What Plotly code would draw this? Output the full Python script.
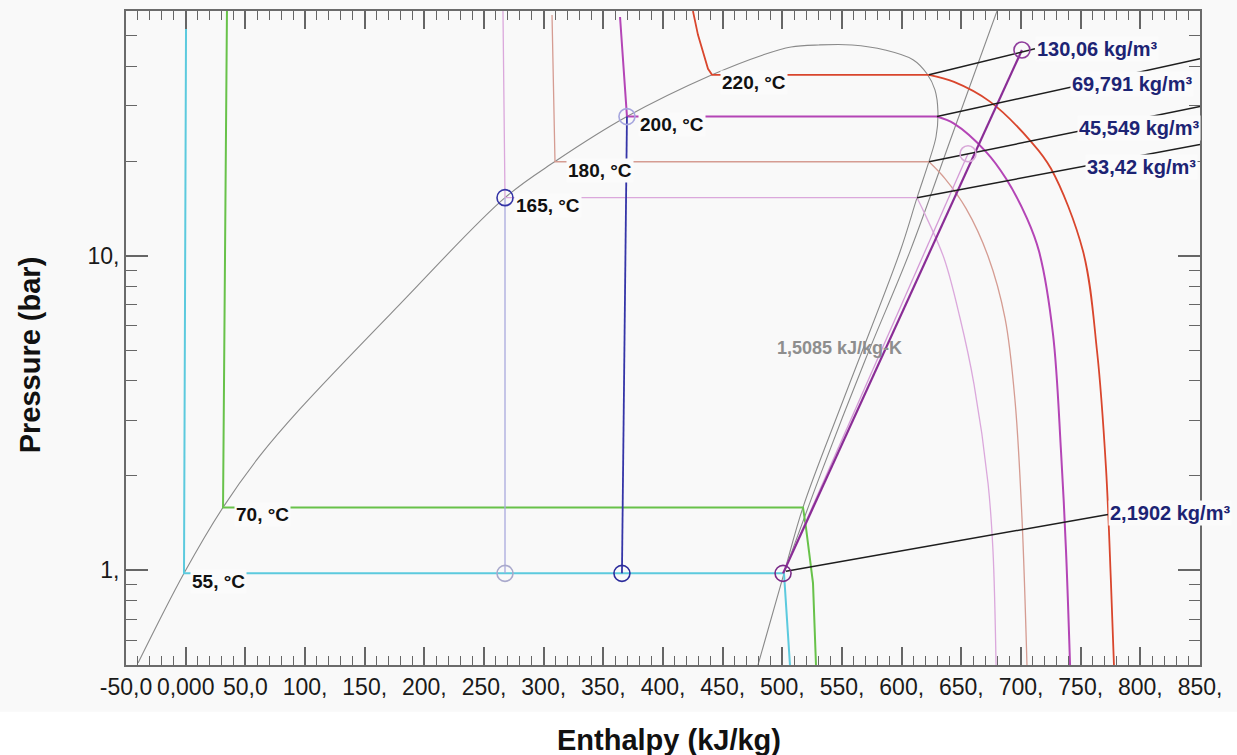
import math
import plotly.graph_objects as go

# ---------------- data (enthalpy kJ/kg, pressure bar) ----------------
# saturation dome: liquid side bottom -> critical region -> vapour side bottom
dome_h = [-39.9, -1.4, 31.3, 62.3, 95.8, 179.6, 267.6, 309.5, 369.8, 441.1, 483.8, 507.3,
          530.7, 558.4, 586.0, 609.5, 621.2, 627.9, 630.4, 628.8, 622.9, 612.9,
          598.6, 551.7, 517.3, 501.4, 479.6]
dome_p = [0.507, 0.978, 1.585, 2.315, 3.26, 7.02, 15.3, 19.93, 27.7, 37.6, 43.5, 46.1,
          46.8, 46.8, 45.1, 42.0, 37.9, 33.7, 28.7, 23.9, 19.95, 15.3,
          10.3, 3.53, 1.585, 0.978, 0.5]

# isotherms: compressed liquid -> two-phase plateau -> superheated vapour
t55_h = [0.3, -1.4, 501.4, 506.4]
t55_p = [52.6, 0.978, 0.978, 0.5]

t70_h = [34.6, 31.3, 517.3, 519.8, 525.7, 528.2]
t70_p = [60.0, 1.585, 1.585, 1.369, 0.910, 0.5]

t165_h = [265.9, 267.6, 612.9, 619.6, 635.5, 648.9, 660.6, 672.4, 676.5, 679.1]
t165_p = [60.0, 15.3, 15.3, 13.54, 9.82, 6.34, 3.91, 1.888, 1.157, 0.5]

t180_h = [307.0, 309.5, 622.9, 636.3, 653.9, 672.4, 686.6, 695.0, 700.8, 705.0]
t180_p = [58.3, 19.9, 19.9, 17.6, 14.15, 9.97, 6.34, 3.46, 1.473, 0.5]

t200_h = [364.0, 369.8, 629.6, 643.9, 670.7, 687.4, 705.0, 715.1, 726.8, 733.5, 737.7, 741.1]
t200_p = [57.4, 27.7, 27.7, 26.3, 21.4, 17.6, 13.15, 10.33, 5.64, 2.40, 1.157, 0.5]

t220_h = [425.1, 429.3, 437.7, 441.1, 622.9, 643.9, 674.0, 708.4, 725.1, 752.0, 763.7,
          771.2, 775.4, 777.9]
t220_p = [60.0, 50.4, 39.3, 37.6, 37.6, 35.7, 30.9, 23.07, 18.94, 10.33, 4.98,
          2.12, 0.910, 0.5]

# isentrope s = 1,5085 kJ/kg-K
isen_h = [501.4, 531.6, 570.1, 607.0, 643.0, 679.9]
isen_p = [0.978, 2.0, 4.73, 10.33, 24.6, 60.0]

# process lines
expand_h = [369.8, 365.6]
expand_p = [27.7, 0.978]
drop165_h = [267.6, 267.6]
drop165_p = [15.3, 0.978]
comp_hi_h = [500.6, 700.8]
comp_hi_p = [0.978, 45.1]
comp_lo_h = [500.6, 655.6]
comp_lo_p = [0.978, 21.1]

# state points
pt_h = [267.6, 267.6, 365.6, 369.8, 500.6, 700.8, 655.6]
pt_p = [15.3, 0.978, 0.978, 27.7, 0.978, 45.1, 21.1]
pt_colors = ["#3434a6", "#a9a9cc", "#2c2c9c", "#a6a6de", "#7a2a88", "#8e3c9c", "#d8a8d8"]

# density leader lines (start h, end h), (start p, end p)
lead_h = [[622.9, 711.7], [629.6, 850.0], [622.9, 850.0], [612.9, 850.0], [503.1, 772.9]]
lead_p = [[37.6, 45.5], [27.7, 42.3], [19.9, 29.8], [15.3, 22.6], [0.993, 1.505]]
dens_text = ["130,06 kg/m³", "69,791 kg/m³", "45,549 kg/m³", "33,42 kg/m³", "2,1902 kg/m³"]
dens_h = [711.7, 741.1, 746.9, 753.6, 772.9]
dens_p = [45.5, 35.2, 25.4, 19.2, 1.517]

# isotherm labels
iso_text = ["55, °C", "70, °C", "165, °C", "180, °C", "200, °C", "220, °C"]
iso_h = [27.9, 64.0, 303.6, 347.2, 407.5, 476.3]
iso_p = [0.923, 1.505, 14.45, 18.67, 26.1, 35.5]

# axis ticks
x_ticks = list(range(-50, 851, 50))
x_ticktext = ["-50,0", "0,000", "50,0"] + [f"{v}," for v in range(100, 851, 50)]
y_ticks = [1, 10]
y_ticktext = ["1,", "10,"]
y_minor = [0.6, 0.7, 0.8, 0.9, 2, 3, 4, 5, 6, 7, 8, 9, 20, 30, 40, 50]

BG = "#fbfbfb"
FONT = "Liberation Sans, Arial, Helvetica, sans-serif"

fig = go.Figure()


def add_line(h, p, color, width, shape="linear"):
    fig.add_trace(go.Scatter(x=h, y=p, mode="lines",
                             line=dict(color=color, width=width, shape=shape),
                             hoverinfo="skip", showlegend=False))


def add_isotherm(h, p, vap_idx, color, width):
    # liquid branch and plateau as straight segments, vapour branch smoothed
    add_line(h[:vap_idx + 1], p[:vap_idx + 1], color, width)
    add_line(h[vap_idx:], p[vap_idx:], color, width, "spline")


add_line(dome_h, dome_p, "#8a8a8a", 1.1, "spline")
add_line(isen_h, isen_p, "#8a8a8a", 1.1, "spline")
add_isotherm(t165_h, t165_p, 2, "#dba8dc", 1.3)
add_isotherm(t180_h, t180_p, 2, "#d59c92", 1.3)
add_isotherm(t200_h, t200_p, 2, "#b445b6", 2.0)
add_isotherm(t220_h, t220_p, 4, "#d9462d", 1.8)
add_line(t55_h, t55_p, "#5ccade", 2.0)
add_line(t70_h, t70_p, "#68c24a", 2.0)
add_line(drop165_h, drop165_p, "#a9a9dd", 1.3)
add_line(expand_h, expand_p, "#3535a8", 1.8)
add_line(comp_lo_h, comp_lo_p, "#d49ad6", 1.3)
add_line(comp_hi_h, comp_hi_p, "#8a2d96", 2.2)
for lh, lp in zip(lead_h, lead_p):
    add_line(lh, lp, "#1e1e1e", 1.5)

fig.add_trace(go.Scatter(x=pt_h, y=pt_p, mode="markers",
                         marker=dict(symbol="circle-open", size=16,
                                     color=pt_colors, line=dict(width=1.6, color=pt_colors)),
                         hoverinfo="skip", showlegend=False))

annotations = []
for t, h, p in zip(iso_text, iso_h, iso_p):
    annotations.append(dict(x=h, y=math.log10(p), xref="x", yref="y", text=f"<b>{t}</b>",
                            showarrow=False, xanchor="center", yanchor="middle",
                            font=dict(family=FONT, size=19, color="#111111"),
                            bgcolor=BG, borderpad=1))
for t, h, p in zip(dens_text, dens_h, dens_p):
    annotations.append(dict(x=h, y=math.log10(p), xref="x", yref="y", text=f"<b>{t}</b>",
                            showarrow=False, xanchor="left", yanchor="middle",
                            font=dict(family=FONT, size=20, color="#1d2474"),
                            bgcolor=BG, borderpad=1))
annotations.append(dict(x=548.3, y=math.log10(5.09), xref="x", yref="y",
                        text="<b>1,5085 kJ/kg-K</b>", showarrow=False,
                        font=dict(family=FONT, size=18, color="#8e8e8e")))
annotations.append(dict(x=0.506, y=-0.114, xref="paper", yref="paper",
                        text="<b>Enthalpy (kJ/kg)</b>", showarrow=False,
                        xanchor="center", yanchor="middle",
                        font=dict(family=FONT, size=29, color="#111111")))
annotations.append(dict(x=-0.0894, y=0.475, xref="paper", yref="paper",
                        text="<b>Pressure (bar)</b>", showarrow=False, textangle=-90,
                        xanchor="center", yanchor="middle",
                        font=dict(family=FONT, size=29, color="#111111")))

fig.update_layout(
    width=1237, height=755, autosize=False,
    margin=dict(l=126, r=37, t=9, b=90),
    plot_bgcolor=BG, paper_bgcolor="#ffffff",
    font=dict(family=FONT),
    annotations=annotations,
    shapes=[dict(type="rect", xref="paper", yref="paper", x0=-0.12, x1=1.04,
                 y0=-0.0716, y1=1.02, fillcolor="#f9f9f9", line=dict(width=0),
                 layer="below")],
)
fig.update_xaxes(range=[-50, 850], tickmode="array", tickvals=x_ticks, ticktext=x_ticktext,
                 ticks="inside", ticklen=18, tickwidth=1.5, tickcolor="#666666",
                 showline=True, linecolor="#6b6b6b", linewidth=2, mirror="ticks",
                 showgrid=False, zeroline=False,
                 tickfont=dict(family=FONT, size=23, color="#1a1a1a"),
                 minor=dict(tickmode="linear", tick0=0, dtick=10, ticks="inside",
                            ticklen=9, tickwidth=1.2, tickcolor="#666666", showgrid=False))
fig.update_yaxes(type="log", range=[math.log10(0.5), math.log10(60)],
                 tickmode="array", tickvals=y_ticks, ticktext=y_ticktext,
                 ticks="inside", ticklen=22, tickwidth=1.5, tickcolor="#666666",
                 showline=True, linecolor="#6b6b6b", linewidth=2, mirror="ticks",
                 showgrid=False, zeroline=False,
                 tickfont=dict(family=FONT, size=23, color="#1a1a1a"),
                 minor=dict(tickmode="array", tickvals=y_minor, ticks="inside",
                            ticklen=11, tickwidth=1.2, tickcolor="#666666", showgrid=False))

fig.write_html("out.html")
